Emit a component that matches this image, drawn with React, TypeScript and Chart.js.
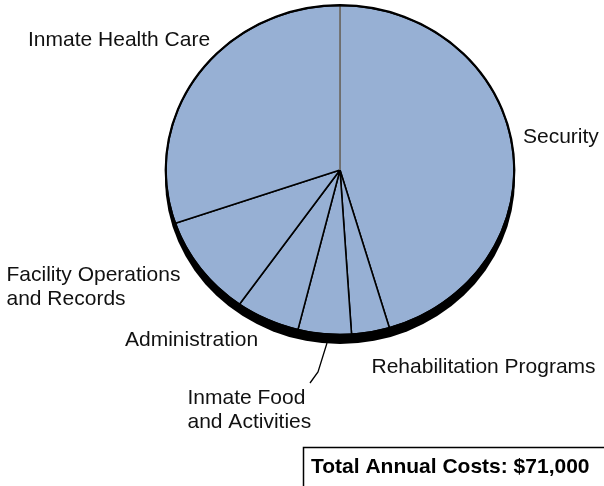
import React, { useEffect, useRef } from "react";
import { Chart, registerables } from "chart.js";

Chart.register(...registerables);

const categories = [
  "Security",
  "Rehabilitation Programs",
  "Inmate Food and Activities",
  "Administration",
  "Facility Operations and Records",
  "Inmate Health Care",
];
const costs = [32250, 2500, 3510, 4200, 7060, 21480];
const totalLabel = "Total Annual Costs: $71,000";

const labelLines: { lines: string[]; x: number; y: number }[] = [
  { lines: ["Security"], x: 523, y: 143 },
  { lines: ["Rehabilitation Programs"], x: 371.5, y: 373 },
  { lines: ["Inmate Food", "and Activities"], x: 187.5, y: 404 },
  { lines: ["Administration"], x: 125, y: 345.5 },
  { lines: ["Facility Operations", "and Records"], x: 6.5, y: 281 },
  { lines: ["Inmate Health Care"], x: 28, y: 46 },
];

const FILL = "#97b0d4";
const Y_SCALE = 164.5 / 174;
const FONT = "21px 'Liberation Sans', Arial, Helvetica, sans-serif";

const piePlugin = {
  id: "pie3d",
  beforeDatasetsDraw(chart: any) {
    const ctx = chart.ctx;
    const meta = chart.getDatasetMeta(0);
    const arc = meta.data[0];
    if (!arc) return;
    const cx = arc.x;
    const cy = arc.y;
    const r = arc.outerRadius;
    // shadow / depth
    ctx.save();
    ctx.fillStyle = "#000";
    ctx.beginPath();
    ctx.ellipse(cx, cy + 8.5, r + 1, r * Y_SCALE + 1, 0, 0, Math.PI * 2);
    ctx.fill();
    ctx.restore();
    ctx.save();
    ctx.translate(cx, cy);
    ctx.scale(1, Y_SCALE);
    ctx.translate(-cx, -cy);
  },
  afterDatasetsDraw(chart: any) {
    const ctx = chart.ctx;
    const meta = chart.getDatasetMeta(0);
    const arc = meta.data[0];
    if (arc) {
      const cx = arc.x;
      const cy = arc.y;
      const r = arc.outerRadius;
      const a = arc.startAngle;
      ctx.strokeStyle = "#8a8a8a";
      ctx.lineWidth = 1.6;
      ctx.beginPath();
      ctx.moveTo(cx, cy);
      ctx.lineTo(cx + Math.cos(a) * (r - 1), cy + Math.sin(a) * (r - 1));
      ctx.stroke();
    }
    ctx.restore();
    if (arc) {
      // outer rim
      ctx.save();
      ctx.strokeStyle = "#000";
      ctx.lineWidth = 2.2;
      ctx.beginPath();
      ctx.ellipse(arc.x, arc.y, arc.outerRadius + 0.3, arc.outerRadius * Y_SCALE + 0.3, 0, 0, Math.PI * 2);
      ctx.stroke();
      ctx.restore();
    }
  },
  afterDraw(chart: any) {
    const ctx = chart.ctx;
    ctx.save();
    ctx.fillStyle = "#111";
    ctx.font = FONT;
    ctx.textAlign = "left";
    ctx.textBaseline = "alphabetic";
    labelLines.forEach((l) => {
      l.lines.forEach((t, i) => ctx.fillText(t, l.x, l.y + i * 23.5));
    });
    // leader line for food label
    ctx.strokeStyle = "#000";
    ctx.lineWidth = 1.3;
    ctx.beginPath();
    ctx.moveTo(327, 343);
    ctx.lineTo(318, 372);
    ctx.lineTo(310, 383);
    ctx.stroke();
    // total box
    ctx.lineWidth = 1.5;
    ctx.strokeRect(303.5, 447.5, 320, 60);
    ctx.font = "bold " + FONT;
    ctx.fillStyle = "#000";
    ctx.fillText(totalLabel, 311, 473);
    ctx.restore();
  },
};

export default function App() {
  const ref = useRef<HTMLCanvasElement | null>(null);
  useEffect(() => {
    if (!ref.current) return;
    const chart = new Chart(ref.current, {
      type: "pie",
      data: {
        labels: categories,
        datasets: [
          {
            data: costs,
            backgroundColor: FILL,
            borderColor: "#000",
            borderWidth: 1.6,
            radius: 174,
            clip: false as any,
          } as any,
        ],
      },
      options: {
        animation: false,
        responsive: false,
        layout: { padding: { left: 76, right: 0, top: 0, bottom: 146 } },
        plugins: {
          legend: { display: false },
          tooltip: { enabled: false },
        },
      },
      plugins: [piePlugin],
    });
    return () => chart.destroy();
  }, []);
  return (
    <div style={{ position: "absolute", left: 0, top: 0, width: 604, height: 486, background: "#fff" }}>
      <canvas ref={ref} width={604} height={486} style={{ display: "block" }} />
    </div>
  );
}
